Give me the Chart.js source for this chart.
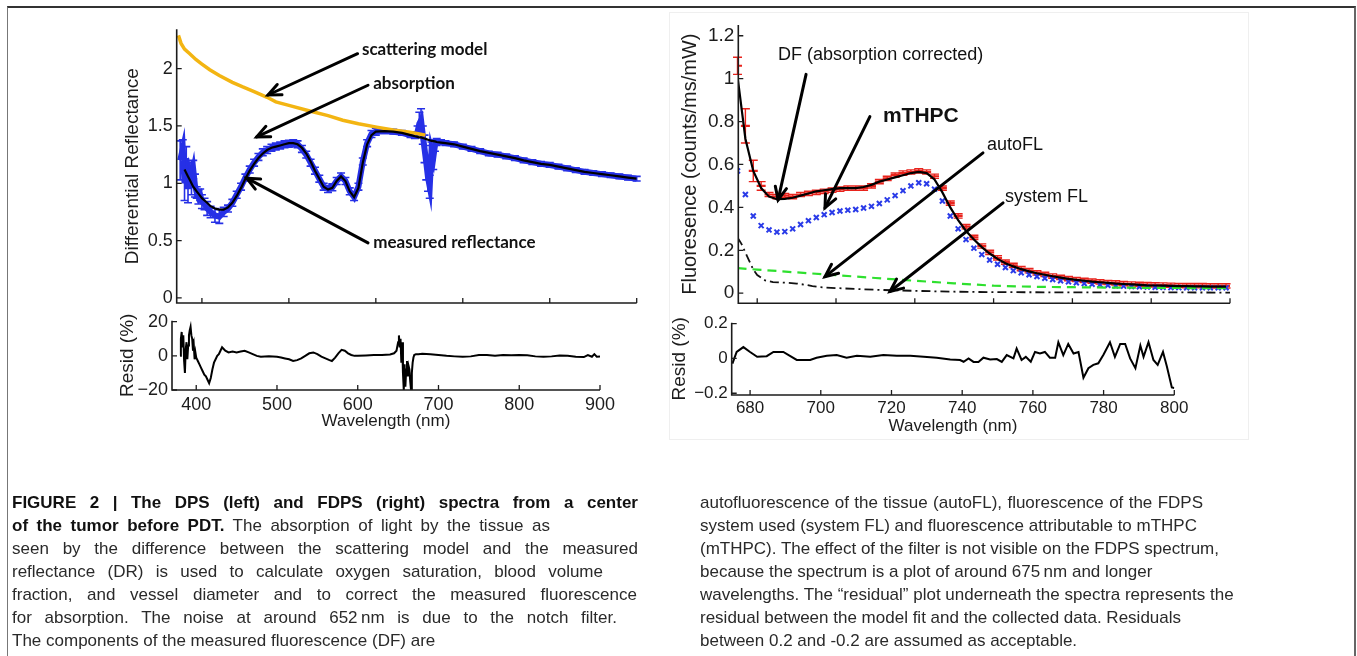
<!DOCTYPE html>
<html><head><meta charset="utf-8">
<script src="https://cdn.jsdelivr.net/npm/chart.js@4.4.1/dist/chart.umd.min.js"></script>
<style>
html,body{margin:0;padding:0;background:#fff;width:1357px;height:656px;overflow:hidden;font-family:"Liberation Sans",Arial,sans-serif;}
.frame{position:absolute;left:7px;top:6px;width:1346px;height:700px;border-left:1px solid #777;border-top:2px solid #333;border-right:2px solid #666;}
.panel{position:absolute;left:669px;top:12px;width:578px;height:426px;border:1px solid #efefef;}
canvas{position:absolute;left:0;top:0;}
.cap{position:absolute;top:491px;font-size:17px;color:#2a2a2a;line-height:23px;white-space:nowrap;}
.cap div{text-align:justify;text-align-last:justify;}
.cap div.end{text-align:left;text-align-last:left;}
.cap b{color:#111;}
</style></head><body>
<div class="frame"></div>
<div class="panel"></div>
<canvas id="c1" width="1357" height="656"></canvas>
<canvas id="c2" width="1357" height="656"></canvas>
<canvas id="c3" width="1357" height="656"></canvas>
<canvas id="c4" width="1357" height="656"></canvas>
<div class="cap" style="left:12px">
<div style="width:626px"><b>FIGURE 2 | The DPS (left) and FDPS (right) spectra from a center</b></div>
<div style="width:538px"><b>of the tumor before PDT.</b> The absorption of light by the tissue as</div>
<div style="width:626px">seen by the difference between the scattering model and the measured</div>
<div style="width:591px">reflectance (DR) is used to calculate oxygen saturation, blood volume</div>
<div style="width:625px">fraction, and vessel diameter and to correct the measured fluorescence</div>
<div style="width:605px">for absorption. The noise at around 652&#8201;nm is due to the notch filter.</div>
<div style="width:408px">The components of the measured fluorescence (DF) are</div>
</div>
<div class="cap" style="left:700px">
<div style="width:503px">autofluorescence of the tissue (autoFL), fluorescence of the FDPS</div>
<div style="width:496px">system used (system FL) and fluorescence attributable to mTHPC</div>
<div style="width:505px">(mTHPC). The effect of the filter is not visible on the FDPS spectrum,</div>
<div style="width:447px">because the spectrum is a plot of around 675&#8201;nm and longer</div>
<div style="width:532px">wavelengths. The “residual” plot underneath the spectra represents the</div>
<div style="width:475px">residual between the model fit and the collected data. Residuals</div>
<div class="end">between 0.2 and -0.2 are assumed as acceptable.</div>
</div>
<script>
// ---------- LEFT PANEL (DPS) DATA ----------
const L_SCAT_WL = [373,376,380,386,393,400,409,420,435,447,460,475,485,500,524,545,562,580,601,620,639,650,657];
const L_SCAT    = [2.29,2.22,2.17,2.13,2.08,2.04,1.99,1.94,1.88,1.84,1.80,1.75,1.71,1.68,1.63,1.59,1.55,1.52,1.49,1.465,1.445,1.43,1.42];

const L_WL = [375,378,380,382,384,386,388,390,392,394,
              396,398,400,403,406,410,415,420,425,430,
              435,440,445,450,455,460,465,470,475,480,
              485,490,495,500,505,510,515,520,525,530,
              535,540,545,550,555,560,565,570,575,580,
              585,590,595,600,610,620,630,640,645,648,
              650,652,654,656,658,660,662,664,666,668,
              670,675,680,690,700,710,720,730,740,750,
              760,770,780,790,800,810,820,830,840,850,
              860,870,880,890,900];
const L_FIT = [null,null,1.12,1.09,1.06,1.03,1.00,0.97,0.95,0.93,
               0.91,0.89,0.87,0.85,0.83,0.80,0.78,0.77,0.77,0.79,
               0.83,0.89,0.96,1.04,1.11,1.17,1.22,1.26,1.29,1.31,
               1.32,1.33,1.34,1.35,1.35,1.34,1.31,1.26,1.19,1.11,
               1.04,0.97,0.945,0.96,1.02,1.06,1.02,0.93,0.88,0.96,
               1.18,1.34,1.42,1.45,1.455,1.45,1.44,1.42,1.41,1.405,
               1.40,1.40,1.395,1.39,1.385,1.38,1.375,1.37,1.368,1.365,
               1.36,1.355,1.35,1.34,1.32,1.30,1.28,1.265,1.25,1.235,
               1.22,1.20,1.185,1.17,1.16,1.145,1.13,1.115,1.10,1.09,
               1.08,1.07,1.06,1.05,1.04];
const L_MEAS = [1.20,1.30,1.00,1.22,0.95,1.10,1.05,1.12,0.98,0.92,
                0.88,0.90,0.84,0.82,0.78,0.75,0.72,0.71,0.75,0.78,
                0.83,0.90,0.97,1.05,1.12,1.18,1.23,1.27,1.29,1.31,
                1.32,1.33,1.34,1.345,1.35,1.34,1.30,1.25,1.18,1.11,
                1.04,0.97,0.95,0.965,1.02,1.06,1.02,0.93,0.88,0.97,
                1.19,1.35,1.43,1.45,1.455,1.45,1.44,1.42,1.42,1.45,
                1.52,1.55,1.42,1.30,1.18,1.05,0.97,1.28,1.22,1.33,
                1.36,1.36,1.35,1.34,1.32,1.30,1.28,1.26,1.25,1.235,
                1.22,1.20,1.185,1.17,1.16,1.145,1.13,1.115,1.10,1.09,
                1.08,1.07,1.06,1.05,1.04];
const L_ERR = [0.17,0.08,0.15,0.10,0.12,0.08,0.15,0.08,0.10,0.05,
               0.06,0.05,0.06,0.05,0.06,0.05,0.06,0.06,0.04,0.03,
               0.03,0.03,0.03,0.03,0.03,0.03,0.03,0.03,0.03,0.03,
               0.03,0.03,0.03,0.03,0.03,0.03,0.03,0.03,0.03,0.03,
               0.03,0.03,0.03,0.03,0.03,0.03,0.03,0.03,0.03,0.03,
               0.03,0.03,0.03,0.03,0.02,0.02,0.02,0.02,0.03,0.05,
               0.10,0.10,0.08,0.12,0.15,0.12,0.10,0.08,0.10,0.05,
               0.03,0.02,0.02,0.02,0.02,0.02,0.02,0.02,0.02,0.02,
               0.02,0.02,0.02,0.02,0.02,0.02,0.02,0.02,0.02,0.02,
               0.02,0.02,0.02,0.02,0.02];

const L_RES_WL = [380,381,382,383,384,385,386,387,388,389,390,391,392,393,394,395,396,397,398,399,400,
                  402,404,406,408,410,412,414,416,418,420,422,424,426,428,430,432,434,436,
                  440,445,450,455,460,465,470,475,480,
                  490,500,505,510,515,520,525,530,535,540,545,550,555,560,565,
                  568,572,576,580,584,588,592,596,600,
                  610,620,630,640,645,648,
                  650,651,652,653,654,655,656,657,658,659,660,661,662,663,664,665,666,667,668,669,670,
                  672,675,680,
                  690,700,710,720,730,740,750,760,770,780,790,800,810,820,830,840,850,860,870,880,
                  885,890,893,896,900];
const L_RES = [0,10,14,5,12,-3,-10,4,8,-2,6,12,15,17,12,10,3,6,-2,2,-1,
               -3,-5,-7,-9,-11,-12,-14,-16,-13,-8,-4,-2,0,1,3,5,4,3,
               2,2.5,2,2.5,3,2,1,0,-0.5,
               -0.3,-0.5,-1,-1.5,-2,-3,-2.5,-1.5,0,1.5,2,1,-0.5,-1.5,-2.5,
               -3,-1,1.5,3.5,3,1.5,0.5,0,0,
               0.2,0.5,0.5,0.8,1.5,3,
               8,12,5,10,-4,8,-10,-20,-5,-18,-8,-3,-12,-6,-8,-15,-20,-10,-4,-1,0.5,
               1,1,1.2,
               1,0.5,0,-0.3,-0.5,-0.3,0.5,0.5,0,0.5,0.3,0.5,0.3,-0.3,-0.5,-0.3,0.2,0,-0.5,-0.7,
               0.5,-0.5,1,-0.5,-0.3];

const L_X_TICKS = [400,500,600,700,800,900];
const L_Y_TICKS = [0,0.5,1,1.5,2];
const L_RES_Y_TICKS = [-20,0,20];

// ---------- RIGHT PANEL (FDPS) DATA ----------
const R_WL = [675,677,679,681,683,685,687,689,691,693,
              695,697,699,701,703,705,707,709,711,713,
              715,717,719,721,723,725,727,729,731,733,
              735,737,739,741,743,745,747,749,751,753,
              755,757,759,761,763,765,767,769,771,773,
              775,777,779,781,783,785,787,789,791,793,
              795,797,799];
const R_DF = [1.06,0.78,0.57,0.50,0.46,0.45,0.455,0.45,0.46,0.465,
              0.47,0.475,0.48,0.485,0.49,0.49,0.49,0.50,0.52,0.535,
              0.55,0.56,0.565,0.57,0.565,0.545,0.49,0.42,0.36,0.31,
              0.26,0.22,0.19,0.165,0.145,0.13,0.115,0.105,0.095,0.088,
              0.08,0.074,0.068,0.064,0.06,0.056,0.053,0.05,0.048,0.045,
              0.043,0.041,0.04,0.039,0.038,0.037,0.036,0.035,0.035,0.035,
              0.034,0.034,0.034];
const R_DF_ERR = [0.04,0.08,0.05,0.02,0.01,0.01,0.01,0.01,0.01,0.01,
                  0.01,0.01,0.01,0.01,0.01,0.01,0.01,0.01,0.01,0.01,
                  0.01,0.01,0.01,0.01,0.01,0.01,0.01,0.01,0.01,0.01,
                  0.01,0.01,0.01,0.01,0.01,0.01,0.01,0.01,0.01,0.01,
                  0.01,0.01,0.01,0.01,0.01,0.01,0.01,0.01,0.01,0.01,
                  0.01,0.01,0.01,0.01,0.01,0.01,0.01,0.01,0.01,0.01,
                  0.01,0.01,0.01];
const R_FIT = [1.01,0.72,0.57,0.49,0.45,0.438,0.44,0.445,0.455,0.465,
               0.475,0.48,0.485,0.49,0.49,0.49,0.495,0.505,0.52,0.53,
               0.54,0.55,0.56,0.565,0.56,0.53,0.47,0.40,0.34,0.29,
               0.25,0.215,0.185,0.16,0.14,0.125,0.112,0.102,0.093,0.086,
               0.079,0.073,0.067,0.062,0.058,0.054,0.051,0.048,0.045,0.043,
               0.041,0.039,0.037,0.036,0.035,0.034,0.033,0.033,0.032,0.032,
               0.031,0.031,0.031];
const R_MTHPC = [0.57,0.46,0.36,0.315,0.295,0.285,0.287,0.30,0.32,0.338,
                 0.353,0.366,0.376,0.383,0.387,0.39,0.397,0.405,0.418,0.435,
                 0.455,0.478,0.50,0.515,0.51,0.485,0.43,0.36,0.30,0.25,
                 0.21,0.18,0.155,0.135,0.12,0.105,0.095,0.086,0.078,0.07,
                 0.064,0.058,0.053,0.049,0.045,0.042,0.039,0.037,0.035,0.033,
                 0.031,0.03,0.029,0.028,0.027,0.026,0.026,0.025,0.025,0.025,
                 0.025,0.025,0.025];
const R_AUTO_WL = [675,680,690,700,710,720,730,740,750,760,770,780,790,800];
const R_AUTO    = [0.117,0.11,0.097,0.084,0.071,0.058,0.046,0.035,0.030,0.028,0.026,0.025,0.024,0.023];
const R_SYS_WL = [675,676,677,678,679,680,682,684,686,688,690,692,694,696,700,705,710,720,730,740,760,780,800];
const R_SYS    = [0.26,0.23,0.19,0.15,0.11,0.085,0.06,0.052,0.05,0.048,0.045,0.04,0.033,0.028,0.024,0.02,0.016,0.011,0.007,0.005,0.004,0.004,0.003];

const R_RES_WL = [675,676.2,678.1,680,682,684.7,686.6,689.4,693.2,697,
                  698.8,701.7,704.5,707.3,710.2,714,717.7,721.5,725.3,729.1,
                  732.8,736.6,739.4,740.4,741.8,743.2,744.6,746,747.9,749.8,
                  751.2,752.6,754.5,755.4,756.8,758,759.4,760.6,762,763.4,
                  764.8,766.3,767.2,768.6,770,771.5,772.9,774.3,775.7,777.1,
                  778.5,780,781.8,783.2,784.7,786.1,787.5,789,790.4,791.3,
                  792.7,794.1,795.3,796.8,797.9,799.3,800];
const R_RES = [-0.03,0.037,0.065,0.037,0.009,0.013,0.037,0.037,-0.009,-0.009,
               0.004,0.015,0.019,0.004,0.015,0.009,0.019,0.015,0.015,0.009,
               0.004,-0.006,-0.009,-0.019,0,-0.02,-0.02,0.004,-0.006,-0.004,
               -0.02,0.019,0,0.056,-0.009,0.009,-0.019,0.037,0.028,0.037,
               0.004,0.004,0.093,0.019,0.083,0.028,0.037,-0.111,-0.056,-0.037,
               -0.028,0.022,0.093,0.009,0.083,0.083,0,-0.056,0.074,0.009,
               0.093,-0.009,-0.037,0.037,-0.046,-0.167,-0.17];

const R_X_TICKS = [680,700,720,740,760,780,800];
const R_Y_TICKS = [0,0.2,0.4,0.6,0.8,1,1.2];
const R_RES_Y_TICKS = [-0.2,0,0.2];

// annotations: label anchor (lx,ly), arrow start (sx,sy), arrow tip (ex,ey) in data units
const L_NOTES = [
  {text:'scattering model',     lx:584, ly:2.17, sx:579, sy:2.13, ex:476, ey:1.77},
  {text:'absorption',           lx:597, ly:1.87, sx:591, sy:1.855, ex:463, ey:1.405},
  {text:'measured reflectance', lx:597, ly:0.48, sx:591, sy:0.48, ex:451.5, ey:1.045}
];
const R_NOTES = [
  {text:'DF (absorption corrected)', lx:685.3, ly:1.11, sx:692.4, sy:1.02, ex:685.3, ey:0.435},
  {text:'mTHPC', bold:true,          lx:711.9, ly:0.823, sx:708.6, sy:0.823, ex:697.2, ey:0.398},
  {text:'autoFL',                    lx:738.3, ly:0.69, sx:737.3, sy:0.654, ex:697.2, ey:0.077},
  {text:'system FL',                 lx:742.9, ly:0.45, sx:742.4, sy:0.421, ex:713.7, ey:0.008}
];

// ---------- helpers ----------
const FONT = '"Liberation Sans", Arial, sans-serif';
const INK = '#1c1c1c';
Chart.defaults.font.family = FONT;
Chart.defaults.color = INK;
const pts = (xs, ys) => xs.map((x, i) => ({x: x, y: ys[i]}));
const fmt = v => (v < 0 ? '\u2212' + Math.abs(v) : String(v));

const axesPlugin = {
  id: 'mAxes',
  afterDraw(chart) {
    const {ctx, chartArea: a, scales: {x, y}} = chart;
    ctx.save();
    ctx.strokeStyle = INK;
    ctx.lineWidth = 1.6;
    ctx.beginPath();
    ctx.moveTo(a.left, a.top); ctx.lineTo(a.left, a.bottom); ctx.lineTo(a.right, a.bottom);
    ctx.stroke();
    ctx.lineWidth = 1.3;
    ctx.beginPath();
    x.ticks.forEach(t => { const p = x.getPixelForValue(t.value); ctx.moveTo(p, a.bottom); ctx.lineTo(p, a.bottom - 5); });
    y.ticks.forEach(t => { const p = y.getPixelForValue(t.value); ctx.moveTo(a.left, p); ctx.lineTo(a.left + 5, p); });
    ctx.stroke();
    ctx.restore();
  }
};
const errPlugin = {
  id: 'errBars',
  afterDatasetDraw(chart, args) {
    const ds = chart.data.datasets[args.index];
    if (!ds.errors) return;
    const ctx = chart.ctx, ys = chart.scales.y, cap = ds.errCap || 3;
    ctx.save();
    ctx.strokeStyle = ds.errColor; ctx.lineWidth = ds.errWidth || 1.4;
    ctx.beginPath();
    args.meta.data.forEach((el, i) => {
      const v = ds.data[i].y, e = ds.errors[i];
      if (v == null || !e) return;
      const t = ys.getPixelForValue(v + e), b = ys.getPixelForValue(v - e), px = el.x;
      ctx.moveTo(px, t); ctx.lineTo(px, b);
      ctx.moveTo(px - cap, t); ctx.lineTo(px + cap, t);
      ctx.moveTo(px - cap, b); ctx.lineTo(px + cap, b);
    });
    ctx.stroke();
    ctx.restore();
  }
};
function notesPlugin(notes, font, boldFont, lw) {
  return {
    id: 'notes',
    afterDraw(chart) {
      const {ctx, scales: {x, y}} = chart;
      ctx.save();
      ctx.strokeStyle = '#000'; ctx.fillStyle = '#111'; ctx.lineWidth = lw; ctx.lineCap = 'round';
      notes.forEach(n => {
        const x0 = x.getPixelForValue(n.sx), y0 = y.getPixelForValue(n.sy);
        const x1 = x.getPixelForValue(n.ex), y1 = y.getPixelForValue(n.ey);
        ctx.beginPath(); ctx.moveTo(x0, y0); ctx.lineTo(x1, y1); ctx.stroke();
        const a = Math.atan2(y1 - y0, x1 - x0), L = 14, w = 0.42;
        ctx.beginPath();
        ctx.moveTo(x1 - L * Math.cos(a - w), y1 - L * Math.sin(a - w));
        ctx.lineTo(x1, y1);
        ctx.lineTo(x1 - L * Math.cos(a + w), y1 - L * Math.sin(a + w));
        ctx.stroke();
        ctx.font = n.bold ? boldFont : font;
        ctx.textAlign = 'left'; ctx.textBaseline = 'middle';
        ctx.fillText(n.text, x.getPixelForValue(n.lx), y.getPixelForValue(n.ly));
      });
      ctx.restore();
    }
  };
}
function axisCfg(o) {
  return {
    type: 'linear', min: o.min, max: o.max,
    grid: {display: false, drawTicks: false},
    border: {display: false},
    afterBuildTicks: s => { s.ticks = o.ticks.map(v => ({value: v})); },
    afterFit: s => { if (o.horizontal) s.height = o.size; else s.width = o.size; },
    ticks: {display: o.showLabels, autoSkip: false, maxRotation: 0, padding: o.pad, color: INK,
            font: {size: o.tickSize, family: FONT}, callback: v => fmt(v)},
    title: {display: !!o.title, text: o.title || '', color: INK, padding: 0,
            font: {size: o.titleSize || 17, family: FONT}}
  };
}
function line(data, color, width, extra) {
  return Object.assign({data: data, borderColor: color, backgroundColor: color, borderWidth: width,
    pointRadius: 0, tension: 0, fill: false, spanGaps: true}, extra || {});
}
function make(id, datasets, pad, xo, yo, extraPlugins) {
  return new Chart(document.getElementById(id), {
    type: 'line',
    data: {datasets: datasets},
    options: {
      responsive: false, animation: false, devicePixelRatio: 1,
      layout: {padding: pad},
      plugins: {legend: {display: false}, tooltip: {enabled: false}},
      scales: {x: axisCfg(Object.assign({horizontal: true}, xo)), y: axisCfg(yo)}
    },
    plugins: [axesPlugin, errPlugin].concat(extraPlugins || [])
  });
}

// ---------- LEFT MAIN ----------
make('c1', [
  line(pts(L_WL, L_FIT), '#000', 2.2),
  line(pts(L_SCAT_WL, L_SCAT), '#f3b512', 3.5),
  line(pts(L_WL, L_MEAS), '#2630e6', 6, {errors: L_ERR, errColor: '#2630e6', errWidth: 1.6, errCap: 4})
], {left: 121.6, top: 29.3, right: 720.3, bottom: 353},
  {min: 371, max: 900, ticks: L_X_TICKS, showLabels: false, size: 0},
  {min: -0.044, max: 2.343, ticks: L_Y_TICKS, showLabels: true, tickSize: 18, pad: 4, size: 55.1,
   title: 'Differential Reflectance', titleSize: 19},
  [notesPlugin(L_NOTES, 'bold 17px Lato, "Open Sans", sans-serif', 'bold 17px Lato, sans-serif', 3)]);

// ---------- LEFT RESIDUAL ----------
make('c2', [
  line(pts(L_RES_WL, L_RES), '#000', 2)
], {left: 116.6, top: 320.7, right: 757, bottom: 224.8},
  {min: 370, max: 900, ticks: L_X_TICKS, showLabels: true, tickSize: 18, pad: 4, size: 41.2,
   title: 'Wavelength (nm)', titleSize: 17},
  {min: -20, max: 20.6, ticks: L_RES_Y_TICKS, showLabels: true, tickSize: 18, pad: 4, size: 55.4,
   title: 'Resid (%)', titleSize: 19});

// ---------- RIGHT MAIN ----------
make('c3', [
  line(pts(R_WL, R_FIT), '#000', 2.2),
  line(pts(R_SYS_WL, R_SYS), '#111', 1.8, {borderDash: [9, 4, 2, 4]}),
  line(pts(R_AUTO_WL, R_AUTO), '#2ee02e', 2.2, {borderDash: [9, 6]}),
  line(pts(R_WL, R_MTHPC), '#2a3be8', 0, {showLine: false, pointStyle: 'crossRot', pointRadius: 3.5,
       pointBorderWidth: 2, pointBorderColor: '#2a3be8'}),
  line(pts(R_WL, R_DF), '#e8231c', 0, {showLine: false, pointStyle: 'line', pointRadius: 4.5,
       pointBorderWidth: 2.2, pointBorderColor: '#e8231c',
       errors: R_DF_ERR, errColor: '#e8231c', errWidth: 1.4, errCap: 4.5})
], {left: 678, top: 25, right: 127, bottom: 352.7},
  {min: 675.2, max: 800, ticks: R_X_TICKS, showLabels: false, size: 0},
  {min: -0.047, max: 1.25, ticks: R_Y_TICKS, showLabels: true, tickSize: 19, pad: 4, size: 60.3,
   title: 'Fluoresence (counts/ms/mW)', titleSize: 20},
  [notesPlugin(R_NOTES, '18px ' + FONT, 'bold 21px ' + FONT, 3)]);

// ---------- RIGHT RESIDUAL ----------
make('c4', [
  line(pts(R_RES_WL, R_RES), '#000', 2)
], {left: 668.6, top: 322.7, right: 182.7, bottom: 219.1},
  {min: 674.8, max: 800, ticks: R_X_TICKS, showLabels: true, tickSize: 17, pad: 3, size: 41.9,
   title: 'Wavelength (nm)', titleSize: 17},
  {min: -0.21, max: 0.205, ticks: R_RES_Y_TICKS, showLabels: true, tickSize: 17, pad: 4, size: 63.1,
   title: 'Resid (%)', titleSize: 19});
</script>
</body></html>
